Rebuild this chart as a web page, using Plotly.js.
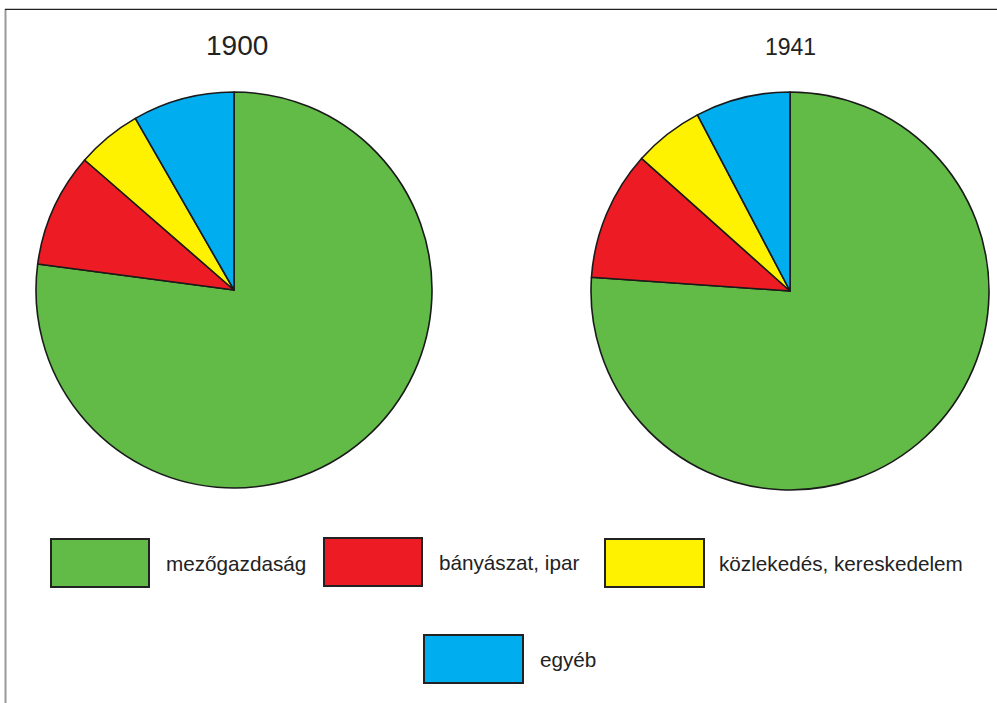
<!DOCTYPE html>
<html>
<head>
<meta charset="utf-8">
<script src="https://cdn.plot.ly/plotly-3.0.1.min.js"></script>
<style>html,body{margin:0;padding:0;background:#fff;}#chart{width:997px;height:703px;}</style>
</head>
<body>
<div id="chart"></div>
<script>
// ---- data ----
const categories = ["mezőgazdaság", "bányászat, ipar", "közlekedés, kereskedelem", "egyéb"];
const years = ["1900", "1941"];
const values1900 = [77.1, 9.3, 5.3, 8.3];
const values1941 = [76.1, 10.5, 5.7, 7.7];
const colors = ["#62bb47", "#ed1c24", "#fff200", "#00aeef"];

// ---- layout helpers (pixel -> paper) ----
const W = 997, H = 703;
const px = x => x / W;
const py = y => 1 - y / H;

function pieTrace(vals, cx, cy, r, name) {
  return {
    type: "pie",
    name: name,
    labels: categories,
    values: vals,
    sort: false,
    direction: "clockwise",
    rotation: 0,
    textinfo: "none",
    hoverinfo: "label+percent",
    showlegend: false,
    marker: { colors: colors, line: { color: "#1a1a1a", width: 1.6 } },
    domain: { x: [px(cx - r), px(cx + r)], y: [py(cy + r), py(cy - r)] }
  };
}

const data = [
  pieTrace(values1900, 234, 290, 198, years[0]),
  pieTrace(values1941, 790, 291, 199, years[1])
];

// legend boxes (positions in pixels)
const legendBoxes = [
  { x0: 51, x1: 149, y0: 539, y1: 587, tx: 164 },
  { x0: 324, x1: 422, y0: 538, y1: 586, tx: 437 },
  { x0: 605, x1: 704, y0: 539, y1: 587, tx: 717 },
  { x0: 424, x1: 523, y0: 635, y1: 683, tx: 538 }
];

const FONT = "Liberation Sans, Arial, Helvetica, sans-serif";

const shapes = [
  // frame lines
  { type: "line", xref: "paper", yref: "paper", x0: px(5.5), x1: px(5.5), y0: py(9), y1: py(703), line: { color: "#999999", width: 2 } },
  { type: "line", xref: "paper", yref: "paper", x0: px(5), x1: px(997), y0: py(9.3), y1: py(9.3), line: { color: "#222222", width: 1.3 } }
];
const annotations = [
  { text: years[0], x: px(237), y: py(46), xref: "paper", yref: "paper", showarrow: false, xanchor: "center", yanchor: "middle", font: { family: FONT, size: 28, color: "#222" } },
  { text: years[1], x: px(790), y: py(47), xref: "paper", yref: "paper", showarrow: false, xanchor: "center", yanchor: "middle", font: { family: FONT, size: 23, color: "#222" } }
];

categories.forEach((c, i) => {
  const b = legendBoxes[i];
  shapes.push({ type: "rect", xref: "paper", yref: "paper", x0: px(b.x0), x1: px(b.x1), y0: py(b.y1), y1: py(b.y0),
    fillcolor: colors[i], line: { color: "#222", width: 2 } });
  annotations.push({ text: c, x: px(b.tx), y: py((b.y0 + b.y1) / 2), xref: "paper", yref: "paper", showarrow: false,
    xanchor: "left", yanchor: "middle", font: { family: FONT, size: 20.7, color: "#222" } });
});

const layout = {
  width: W, height: H,
  margin: { l: 0, r: 0, t: 0, b: 0 },
  paper_bgcolor: "#ffffff",
  plot_bgcolor: "#ffffff",
  showlegend: false,
  shapes: shapes,
  annotations: annotations
};

Plotly.newPlot("chart", data, layout, { displayModeBar: false, staticPlot: true });
</script>
</body>
</html>
